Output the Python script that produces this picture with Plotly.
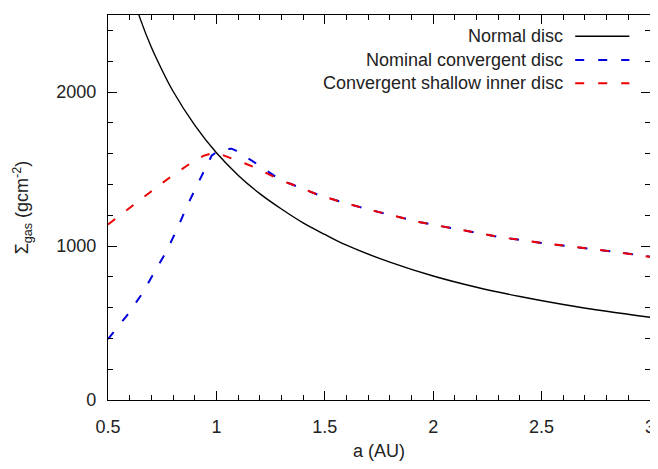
import plotly.graph_objects as go

# ---- data ----
a_normal = [0.62, 0.65, 0.7, 0.75, 0.8, 0.9, 1.0, 1.1, 1.2, 1.3, 1.4, 1.5, 1.6, 1.8,
            2.0, 2.2, 2.4, 2.6, 2.8, 3.0]
sigma_normal = [2600, 2470, 2290, 2140, 2005, 1785, 1605, 1460, 1340, 1240, 1150, 1075,
                1005, 895, 805, 732, 672, 620, 576, 537]

a_nominal = [0.5, 0.587, 0.655, 0.715, 0.769, 0.819, 0.867, 0.918, 0.978, 1.0, 1.03,
             1.07, 1.09, 1.12, 1.165, 1.21, 1.26, 1.3, 1.35, 1.39, 1.47, 1.59, 1.75,
             1.94, 2.1, 2.31, 2.5, 2.68, 2.85, 3.0]
sigma_nominal = [395, 548, 685, 828, 964, 1111, 1267, 1415, 1586, 1610, 1628,
                 1632, 1620, 1590, 1553, 1510, 1460, 1425, 1399, 1378, 1332, 1280, 1220,
                 1154, 1110, 1057, 1020, 991, 960, 930]

a_shallow = [0.5, 0.607, 0.699, 0.793, 0.885, 0.94, 0.99, 1.03, 1.09, 1.13, 1.19, 1.22,
             1.3, 1.35, 1.39, 1.47, 1.59, 1.75, 1.94, 2.1, 2.31, 2.5, 2.68, 2.85, 3.0]
sigma_shallow = [1140, 1252, 1354, 1454, 1541, 1585, 1607, 1590, 1560, 1537, 1502, 1480,
                 1425, 1399, 1378, 1332, 1280, 1220, 1154, 1110, 1057, 1020, 991, 960, 930]

series_names = ["Normal disc", "Nominal convergent disc", "Convergent shallow inner disc"]
series_colors = ["#000000", "#0000dd", "#ee0000"]
series_dash = ["solid", "9px,14px", "9px,14px"]

x_tickvals = [0.5, 1, 1.5, 2, 2.5, 3]
x_ticktext = ["0.5", "1", "1.5", "2", "2.5", "3"]
y_tickvals = [0, 1000, 2000]
y_ticktext = ["0", "1000", "2000"]

FONT = "Liberation Sans, Arial, sans-serif"
TXT = "#222222"

fig = go.Figure()
fig.add_trace(go.Scatter(x=a_normal, y=sigma_normal, mode="lines", name=series_names[0],
                         line=dict(color=series_colors[0], width=1.4, shape="spline",
                                   dash=series_dash[0]), showlegend=False))
fig.add_trace(go.Scatter(x=a_nominal, y=sigma_nominal, mode="lines", name=series_names[1],
                         line=dict(color=series_colors[1], width=2, dash=series_dash[1]),
                         showlegend=False))
fig.add_trace(go.Scatter(x=a_shallow, y=sigma_shallow, mode="lines", name=series_names[2],
                         line=dict(color=series_colors[2], width=2, dash=series_dash[2]),
                         showlegend=False))

# manual legend (text right-aligned, sample on the right, gnuplot style)
legend_rows_y = [0.945, 0.883, 0.823]
for name, col, dash, ly in zip(series_names, series_colors, series_dash, legend_rows_y):
    fig.add_annotation(xref="paper", yref="paper", x=0.843, y=ly, text=name,
                       showarrow=False, xanchor="right", yanchor="middle",
                       font=dict(family=FONT, size=18, color=TXT))
    fig.add_shape(type="line", xref="paper", yref="paper", x0=0.862, x1=0.962,
                  y0=ly, y1=ly, line=dict(color=col, width=2 if dash != "solid" else 1.4,
                                           dash=dash))

axis_common = dict(showline=True, linecolor="#000000", linewidth=1.2, mirror="allticks",
                   ticks="inside", ticklen=9, tickcolor="#000000", tickwidth=1,
                   showgrid=False, zeroline=False,
                   tickfont=dict(family=FONT, size=18, color=TXT))

fig.update_xaxes(range=[0.5, 3], tickvals=x_tickvals, ticktext=x_ticktext,
                 minor=dict(ticks="inside", dtick=0.1, ticklen=5, tickcolor="#000000",
                            showgrid=False),
                 title=dict(text="a (AU)", font=dict(family=FONT, size=18, color=TXT),
                            standoff=18),
                 ticklabelstandoff=10, ticklabeloverflow="allow",
                 **axis_common)
fig.update_yaxes(range=[0, 2500], tickvals=y_tickvals, ticktext=y_ticktext,
                 minor=dict(ticks="inside", dtick=200, ticklen=5, tickcolor="#000000",
                            showgrid=False),
                 title=dict(text="Σ<sub>gas</sub> (gcm<sup>-2</sup>)",
                            font=dict(family=FONT, size=18, color=TXT), standoff=22),
                 ticklabelstandoff=7,
                 **axis_common)

# the page body has an 8px default margin, so the figure is sized to fit the window
fig.update_layout(width=650, height=453,
                  margin=dict(l=100, r=8, t=7, b=61, autoexpand=False),
                  plot_bgcolor="#ffffff", paper_bgcolor="#ffffff",
                  font=dict(family=FONT, size=18, color=TXT))

fig.write_html("out.html")
